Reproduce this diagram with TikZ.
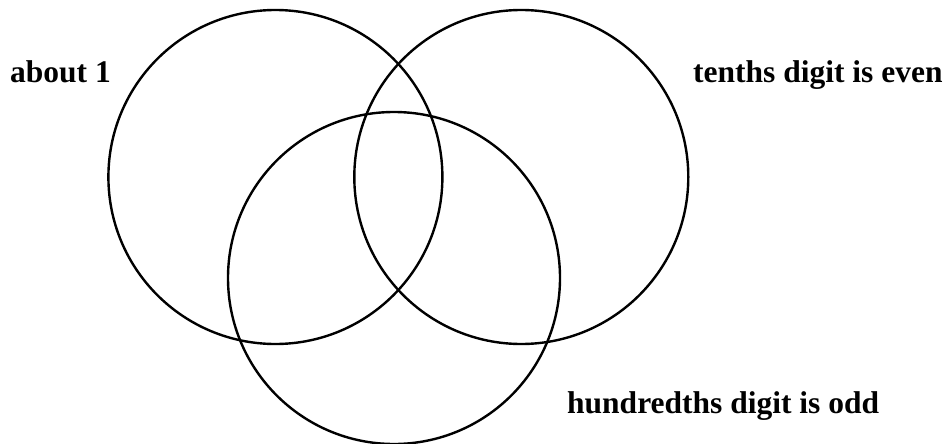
\documentclass[tikz,border=0pt]{standalone}
\usepackage{fontspec}
\setmainfont{Liberation Serif}
\usetikzlibrary{positioning}

\begin{document}
\begin{tikzpicture}[x=1pt, y=-1pt,
		venn/.style={circle, draw, line width=2.4pt, minimum size=334pt, inner sep=0pt},
		settext/.style={anchor=base west, inner sep=0pt, font=\fontsize{31.5}{36}\selectfont\bfseries}]
		\useasboundingbox (0,0) rectangle (948,444);
		
		% 三个圆
		\node[venn] (about) at (275.4,177) {};
		\node[venn] (tenths) at (521.3,177) {};
		\node[venn, minimum size=332pt] (hundredths) at (394,278) {};
		
		% 标注
		\node[settext] (aboutlab) at (10,82) {about 1};
		\node[settext] (tenthslab) at (693,82) {tenths digit is even};
		\node[settext] (hundredthslab) at (567,413) {hundredths digit is odd};
	\end{tikzpicture}
\end{document}
